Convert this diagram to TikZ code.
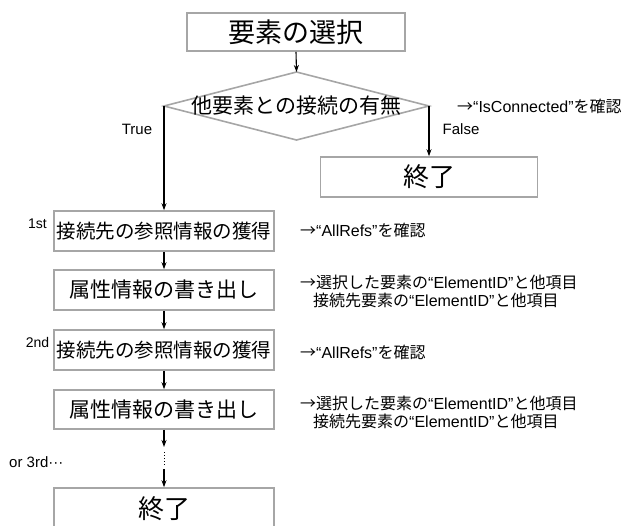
\documentclass[tikz,border=0pt]{standalone}
\usepackage{fontspec}
\setmainfont{Liberation Sans}
\newfontfamily\jp{Noto Sans CJK JP}
\usetikzlibrary{arrows.meta}
\begin{document}
\begin{tikzpicture}[x=1pt,y=-1pt,
  box/.style={draw=gray!70,line width=1.6pt,rectangle,inner sep=0pt,minimum width=220pt,minimum height=40pt},
  arr/.style={-{Stealth[length=7pt,width=5pt]},line width=1.1pt},
  lbl/.style={inner sep=0pt,font=\fontsize{15}{18}\selectfont},
  note/.style={inner sep=0pt,anchor=west,font=\fontsize{16}{18}\selectfont,align=left}]
\useasboundingbox (0,0) rectangle (639,525);

% top box
\node[box,minimum width=218pt,minimum height=38pt,font=\jp\fontsize{27}{30}\selectfont] (sel) at (296,32) {要素の選択};

% decision diamond
\coordinate (dt) at (296.5,72);
\coordinate (dr) at (429,106);
\coordinate (db) at (296.5,140);
\coordinate (dl) at (164,106);
\draw[draw=gray!70,line width=1.6pt] (dt) -- (dr) -- (db) -- (dl) -- cycle;
\node[inner sep=0pt,font=\jp\fontsize{21}{24}\selectfont] (dec) at (296.5,106) {他要素との接続の有無};

% end (false)
\node[box,minimum width=217pt,font=\jp\fontsize{26}{30}\selectfont] (endf) at (429,177) {終了};

% chain
\node[box,font=\jp\fontsize{19.5}{22}\selectfont] (b1) at (164,231) {接続先の参照情報の獲得};
\node[box,font=\jp\fontsize{21}{24}\selectfont] (b2) at (164,290) {属性情報の書き出し};
\node[box,font=\jp\fontsize{19.5}{22}\selectfont] (b3) at (164,350) {接続先の参照情報の獲得};
\node[box,minimum height=39pt,font=\jp\fontsize{21}{24}\selectfont] (b4) at (164,409.5) {属性情報の書き出し};
\node[box,minimum height=42pt,font=\jp\fontsize{26}{30}\selectfont] (endt) at (164,509) {終了};

\coordinate (c1) at (164,447);
\coordinate (c2) at (164,452);
\coordinate (c3) at (164,467);
\coordinate (c4) at (164,469);

% connectors
\draw[arr] (sel.south) -- (dt);
\draw[arr] (dl) -- (b1.north);
\draw[arr] (dr) -- (endf.north);
\draw[arr] (b1) -- (b2);
\draw[arr] (b2) -- (b3);
\draw[arr] (b3) -- (b4);
\draw[arr] (b4.south) -- (c1);
\draw[line width=1pt,dotted] (c2) -- (c3);
\draw[arr] (c4) -- (endt.north);

% labels
\node[lbl] (ltrue) at (137,129) {True};
\node[lbl] (lfalse) at (461,129) {False};
\node[lbl,font=\fontsize{14}{16}\selectfont] (l1st) at (37.5,224) {1st};
\node[lbl,font=\fontsize{14}{16}\selectfont] (l2nd) at (37.5,342) {2nd};
\node[lbl,anchor=west] (l3rd) at (9,462) {or 3rd···};

% notes
\node[note] (n0) at (457,106) {{\jp →}“IsConnected”{\jp を確認}};
\node[note] (n1) at (300,230) {{\jp →}“AllRefs”{\jp を確認}};
\node[note] (n2) at (300,291) {{\jp →選択した要素の}“ElementID”{\jp と他項目}\\\hspace*{13pt}{\jp 接続先要素の}“ElementID”{\jp と他項目}};
\node[note] (n3) at (300,352) {{\jp →}“AllRefs”{\jp を確認}};
\node[note] (n4) at (300,412) {{\jp →選択した要素の}“ElementID”{\jp と他項目}\\\hspace*{13pt}{\jp 接続先要素の}“ElementID”{\jp と他項目}};
\end{tikzpicture}
\end{document}
